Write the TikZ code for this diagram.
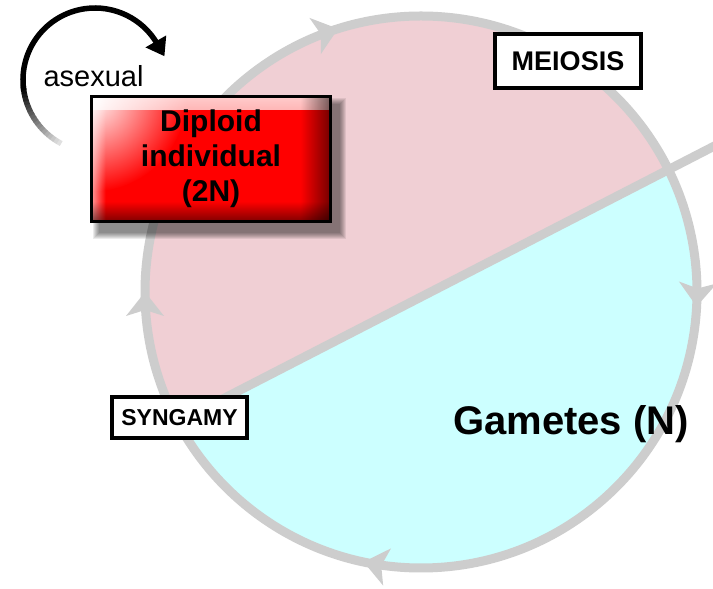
\documentclass[tikz,border=0pt]{standalone}
\usepackage{fontspec}
\setmainfont{Liberation Sans}
\usetikzlibrary{fadings}

\definecolor{ringgray}{RGB}{205,205,205}
\definecolor{diplpink}{RGB}{240,207,212}
\definecolor{gamcyan}{RGB}{204,255,255}
\definecolor{boxred}{RGB}{255,0,0}

% fadings for the glossy red box
\tikzfading[name=fadeN, top color=transparent!0, bottom color=transparent!100]
\tikzfading[name=fadeS, top color=transparent!100, bottom color=transparent!0]
\tikzfading[name=fadeW, left color=transparent!0, right color=transparent!100]
\tikzfading[name=fadeE, left color=transparent!100, right color=transparent!0]
\tikzfading[name=fadeC, inner color=transparent!0, outer color=transparent!100]

\tikzset{
  cyclering/.style={draw=ringgray, line width=9pt},
  ringhead/.style={fill=ringgray},
  labelbox/.style={rectangle, draw=black, line width=4pt, fill=white, inner sep=0pt,
    font=\bfseries\fontsize{#1}{#1}\selectfont},
  diploidbox/.style={rectangle, draw=black, line width=3pt, fill=boxred,
    minimum width=239pt, minimum height=125pt, inner sep=0pt, align=center,
    font=\bfseries\fontsize{30}{35}\selectfont,
    path picture={
      \fill[white, path fading=fadeN, fit fading=true, opacity=.8]
        (path picture bounding box.north west) rectangle ([yshift=-14pt]path picture bounding box.north east);
      \fill[white, path fading=fadeW, fit fading=true, opacity=.6]
        (path picture bounding box.north west) rectangle ([xshift=14pt]path picture bounding box.south west);
      \fill[white, path fading=fadeC, fit fading=true]
        (path picture bounding box.north west) circle (95pt);
      \fill[black, path fading=fadeE, fit fading=true, opacity=.55]
        ([xshift=-30pt]path picture bounding box.north east) rectangle (path picture bounding box.south east);
      \fill[black, path fading=fadeS, fit fading=true, opacity=.5]
        ([yshift=20pt]path picture bounding box.south west) rectangle (path picture bounding box.south east);
    }},
  asexarc/.style={line width=5.5pt},
}

\begin{document}
\begin{tikzpicture}[x=1pt,y=1pt]
\clip (0,0) rectangle (713,589);
\fill[white] (0,0) rectangle (713,589);

\coordinate (c) at (421,297);
\coordinate (chordL) at (178,167);
\coordinate (chordR) at (730,451);

% diploid (upper) and haploid (lower) halves of the cycle
\begin{scope}
  \clip (c) circle (276);
  \fill[gamcyan] (c) circle (276);
  \fill[diplpink] (100,127) -- (chordR) -- (730,600) -- (100,600) -- cycle;
\end{scope}

\draw[cyclering] (chordL) -- (chordR);
\draw[cyclering] (c) circle (276);

% clockwise arrowheads on the ring
\begin{scope}[shift={(421,297)}]
  \foreach \a in {107.5,-3,258,180}
    \fill[ringhead, shift={(\a:276)}, rotate=\a-90]
      (0,0) -- (-24,19) -- (-18,0) -- (-24,-19) -- cycle;
\end{scope}

% asexual loop, fading in from its tail
\begin{scope}[shift={(95,509)}]
  \foreach \i in {0,...,18} {
    \pgfmathsetmacro\sa{242-3*\i}
    \pgfmathsetmacro\se{\sa-3.4}
    \pgfmathtruncatemacro\pc{12+88*\i/18}
    \draw[asexarc, black!\pc] (\sa:72) arc[start angle=\sa, end angle=\se, radius=72];
  }
  \draw[asexarc, black] (188:72) arc[start angle=188, end angle=30, radius=72];
  \fill[black, shift={(30:72)}, rotate=-60] (14,0) -- (-3,12) -- (-3,-12) -- cycle;
\end{scope}

% soft shadow under the diploid box
\foreach \k in {0,...,6}
  \fill[black, opacity=.08] (99-\k,356-\k) rectangle (340+\k,485+\k);

\node[diploidbox] (dip) at (211,430) {Diploid\\individual\\(2N)};

\node[font=\fontsize{29}{34}\selectfont, anchor=base] (asex) at (93.5,502) {asexual};

\node[labelbox=27, minimum width=146pt, minimum height=54pt] (mei) at (568,528) {MEIOSIS};
\node[labelbox=23, minimum width=135pt, minimum height=41pt] (syn) at (179.5,171.5) {SYNGAMY};

\node[font=\bfseries\fontsize{40}{48}\selectfont, anchor=base] (gam) at (571,154) {Gametes (N)};
\end{tikzpicture}
\end{document}
